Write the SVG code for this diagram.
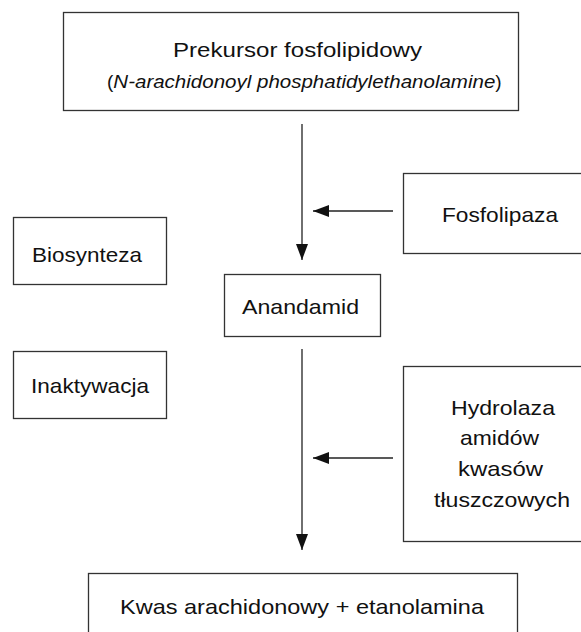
<svg xmlns="http://www.w3.org/2000/svg" width="581" height="632" viewBox="0 0 581 632">
<style>
.box{fill:#fff;stroke:#333;stroke-width:1.3}
.t{font-family:"Liberation Sans",Arial,sans-serif;font-size:21px;fill:#111;text-anchor:middle}
.it{font-style:italic}
.c{stroke:#222;stroke-width:1.3;fill:none}
</style>
<defs>
<marker id="ah" markerUnits="userSpaceOnUse" markerWidth="18" markerHeight="12" refX="16" refY="6" orient="auto">
<path d="M0,0 L16,6 L0,12 Z" fill="#111"/>
</marker>
</defs>
<rect width="581" height="632" fill="#fff"/>
<g id="connectors">
<line class="c" x1="302" y1="124" x2="302" y2="260" marker-end="url(#ah)"/>
<line class="c" x1="393" y1="211" x2="313" y2="211" marker-end="url(#ah)"/>
<line class="c" x1="302" y1="349" x2="302" y2="550" marker-end="url(#ah)"/>
<line class="c" x1="393" y1="458" x2="313" y2="458" marker-end="url(#ah)"/>
</g>
<g id="prekursor">
<rect class="box" x="63.5" y="12.5" width="455" height="98"/>
<text class="t" x="297.5" y="57" textLength="249" lengthAdjust="spacingAndGlyphs">Prekursor fosfolipidowy</text>
<text class="t" x="107" y="88" style="font-size:19px;text-anchor:start">(<tspan class="it" textLength="382" lengthAdjust="spacingAndGlyphs">N-arachidonoyl phosphatidylethanolamine</tspan>)</text>
</g>
<g id="fosfolipaza">
<rect class="box" x="403.5" y="173.5" width="200" height="80"/>
<text class="t" x="500" y="222" textLength="116" lengthAdjust="spacingAndGlyphs">Fosfolipaza</text>
</g>
<g id="biosynteza">
<rect class="box" x="13.5" y="217.5" width="153" height="67"/>
<text class="t" x="87" y="262" textLength="110" lengthAdjust="spacingAndGlyphs">Biosynteza</text>
</g>
<g id="anandamid">
<rect class="box" x="224.5" y="274.5" width="156" height="62"/>
<text class="t" x="300.5" y="314" textLength="117" lengthAdjust="spacingAndGlyphs">Anandamid</text>
</g>
<g id="inaktywacja">
<rect class="box" x="13.5" y="351.5" width="153" height="67"/>
<text class="t" x="90" y="393" textLength="118" lengthAdjust="spacingAndGlyphs">Inaktywacja</text>
</g>
<g id="hydrolaza">
<rect class="box" x="403.5" y="366.5" width="200" height="175"/>
<text class="t" x="503" y="415" textLength="104" lengthAdjust="spacingAndGlyphs">Hydrolaza</text>
<text class="t" x="499.5" y="445" textLength="79" lengthAdjust="spacingAndGlyphs">amidów</text>
<text class="t" x="500.5" y="476" textLength="85" lengthAdjust="spacingAndGlyphs">kwasów</text>
<text class="t" x="502" y="507" textLength="136" lengthAdjust="spacingAndGlyphs">tłuszczowych</text>
</g>
<g id="produkty">
<rect class="box" x="88.5" y="573.5" width="429" height="80"/>
<text class="t" x="302" y="614" textLength="364" lengthAdjust="spacingAndGlyphs">Kwas arachidonowy + etanolamina</text>
</g>
</svg>
